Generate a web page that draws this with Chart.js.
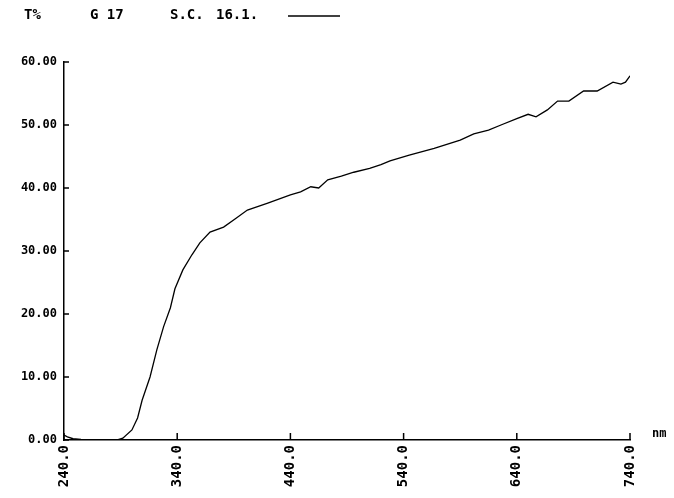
<!DOCTYPE html>
<html>
<head>
<meta charset="utf-8">
<script src="https://cdn.jsdelivr.net/npm/chart.js@4"></script>
<style>
  html, body { margin: 0; padding: 0; background: #fff; }
  #wrap { width: 674px; height: 498px; }
</style>
</head>
<body>
<div id="wrap"><canvas id="spec"></canvas></div>
<script>
// spectrum: wavelength (nm) vs T%
const wavelengths = [240, 243, 248, 255, 265, 275, 285, 292, 300, 305, 309, 316, 322, 328, 334, 338, 345, 353, 360, 369, 381, 392, 402, 420, 440, 449, 458, 465, 473, 485, 496, 510, 520, 528, 545, 567, 590, 602, 615, 626, 640, 650, 657, 667, 676, 686, 699, 711, 725, 732, 736, 740];
const transmission = [0.8, 0.5, 0.2, 0.1, 0.0, 0.0, -0.1, 0.3, 1.6, 3.5, 6.3, 10, 14.3, 18, 21, 24, 27, 29.4, 31.3, 33, 33.8, 35.2, 36.5, 37.6, 38.9, 39.4, 40.2, 40.0, 41.3, 41.9, 42.5, 43.1, 43.7, 44.3, 45.2, 46.3, 47.6, 48.6, 49.2, 50, 51, 51.7, 51.3, 52.4, 53.8, 53.8, 55.4, 55.4, 56.8, 56.5, 56.8, 57.8];
const xTicks = [240, 340, 440, 540, 640, 740];
const yTicks = [0, 10, 20, 30, 40, 50, 60];
const titleParts = ['T%', 'G 17', 'S.C.', '16.1.'];
const unitLabel = 'nm';

const FONT = '"DejaVu Sans Mono", monospace';

const points = wavelengths.map((w, i) => ({ x: w, y: transmission[i] }));

const chart = new Chart(document.getElementById('spec'), {
  type: 'line',
  plugins: [{
    afterDraw: chart => {
      const ctx = chart.ctx;
      const xAxis = chart.scales['x'];
      const yAxis = chart.scales['y'];
      ctx.save();
      ctx.strokeStyle = '#000';
      ctx.lineWidth = 1.5;
      // inward tick marks
      ctx.beginPath();
      yTicks.forEach(v => {
        const y = yAxis.getPixelForValue(v);
        ctx.moveTo(xAxis.left, y);
        ctx.lineTo(xAxis.left + 5, y);
      });
      xTicks.forEach(v => {
        const x = xAxis.getPixelForValue(v);
        ctx.moveTo(x, yAxis.bottom);
        ctx.lineTo(x, yAxis.bottom - 7);
      });
      ctx.stroke();
      // header text + line sample
      ctx.fillStyle = '#000';
      ctx.font = 'bold 14px ' + FONT;
      ctx.textBaseline = 'middle';
      const xs = [24, 90, 170, 216];
      titleParts.forEach((t, i) => ctx.fillText(t, xs[i], 15));
      ctx.beginPath();
      ctx.moveTo(288, 16);
      ctx.lineTo(340, 16);
      ctx.stroke();
      // unit label
      ctx.font = 'bold 12px ' + FONT;
      ctx.fillText(unitLabel, 652, yAxis.bottom - 6);
      ctx.restore();
    }
  }],
  data: {
    datasets: [{
      label: titleParts.join(' '),
      data: points,
      borderColor: '#000',
      borderWidth: 1.3,
      pointRadius: 0,
      tension: 0,
      fill: false
    }]
  },
  options: {
    responsive: true,
    maintainAspectRatio: false,
    animation: false,
    layout: {
      padding: { top: 62, right: 44, left: 0, bottom: 0 }
    },
    plugins: {
      legend: { display: false },
      tooltip: { enabled: false }
    },
    scales: {
      x: {
        type: 'linear',
        min: 240,
        max: 740,
        afterBuildTicks: axis => { axis.ticks = xTicks.map(v => ({ value: v })); },
        afterFit: axis => { axis.height = 58; },
        grid: { display: false, drawTicks: false },
        border: { display: true, color: '#000', width: 1.5 },
        ticks: {
          color: '#000',
          minRotation: 90,
          maxRotation: 90,
          padding: 5,
          font: { family: FONT, size: 14, weight: 'bold' },
          callback: value => Number(value).toFixed(1)
        }
      },
      y: {
        min: 0,
        max: 60,
        afterBuildTicks: axis => { axis.ticks = yTicks.map(v => ({ value: v })); },
        afterFit: axis => { axis.width = 64; },
        grid: { display: false, drawTicks: false },
        border: { display: true, color: '#000', width: 1.5 },
        ticks: {
          color: '#000',
          padding: 7,
          font: { family: FONT, size: 12, weight: 'bold' },
          callback: value => Number(value).toFixed(2)
        }
      }
    }
  }
});
</script>
</body>
</html>
